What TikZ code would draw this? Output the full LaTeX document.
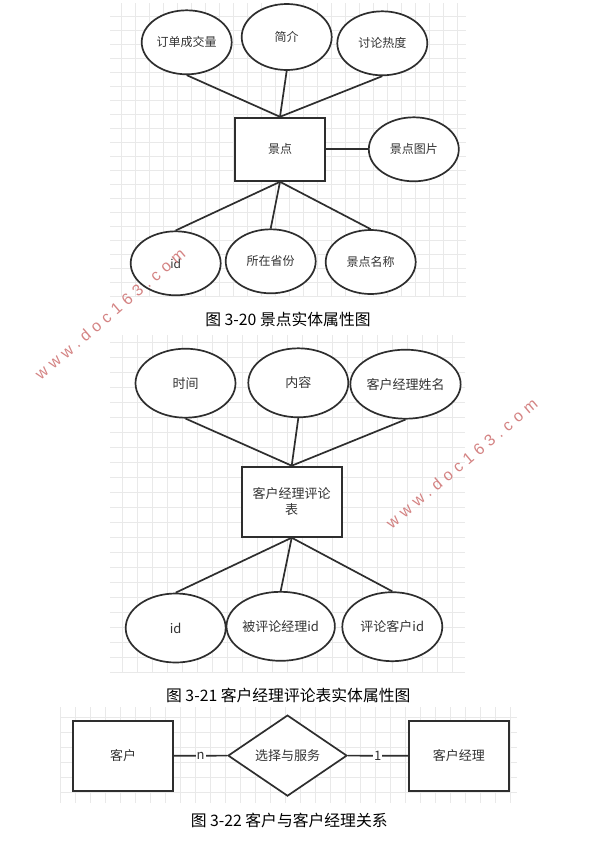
\documentclass[tikz,border=0pt]{standalone}
\usepackage{fontspec}
\setmainfont{Liberation Sans}
\newfontfamily\cjk{Noto Sans CJK SC}
\newfontfamily\wmfont[LetterSpace=32]{Liberation Sans}
\usetikzlibrary{shapes.geometric}
\definecolor{ink}{HTML}{2E2E2E}
\definecolor{txt}{HTML}{333333}
\definecolor{gridc}{HTML}{E9E9E9}
\definecolor{wm}{RGB}{205,110,110}
\tikzset{
  gridline/.style={draw=gridc, line width=0.9pt},
  attrA/.style={ellipse, draw=ink, line width=1.7pt, fill=white, inner sep=0pt,
    minimum width=90pt, minimum height=64pt, text=txt, font=\cjk\fontsize{12}{14}\selectfont},
  attrB/.style={ellipse, draw=ink, line width=1.7pt, fill=white, inner sep=0pt,
    minimum width=100pt, minimum height=69pt, text=txt, font=\cjk\fontsize{13}{16.5}\selectfont},
  entA/.style={rectangle, draw=ink, line width=2pt, fill=white, inner sep=0pt,
    minimum width=90pt, minimum height=63pt, text=txt, font=\cjk\fontsize{12}{14}\selectfont},
  entB/.style={rectangle, draw=ink, line width=2pt, fill=white, inner sep=0pt,
    minimum width=100pt, minimum height=70pt, text=txt, font=\cjk\fontsize{13}{16.5}\selectfont},
  relB/.style={diamond, aspect=1.5, draw=ink, line width=1.7pt, fill=white, inner sep=0pt,
    minimum width=119pt, minimum height=81pt, text=txt, font=\cjk\fontsize{13}{16}\selectfont},
  link/.style={draw=ink, line width=1.7pt},
  lbl/.style={fill=white, inner sep=1pt, text=txt, font=\cjk\fontsize{13}{16}\selectfont},
  captext/.style={inner sep=0pt, text=black, font=\cjk\fontsize{15.8}{18}\selectfont},
  wmark/.style={inner sep=0pt, text=wm, text opacity=0.85, font=\wmfont\fontsize{16}{18}\selectfont},
}
\begin{document}
\begin{tikzpicture}[x=1pt, y=-1pt]
\useasboundingbox (0,0) rectangle (596,847);
\fill[white] (0,0) rectangle (596,847);

% grids
\begin{scope}
\clip (110,3) rectangle (466,297);
\foreach \x in {121.7,135.7,...,466} \draw[gridline] (\x,3) -- (\x,297);
\foreach \y in {2.7,16.7,...,297.5} \draw[gridline] (110,\y) -- (466,\y);
\end{scope}
\begin{scope}
\clip (110,335) rectangle (465,673);
\foreach \x in {122.3,137.3,...,465} \draw[gridline] (\x,335) -- (\x,673);
\foreach \y in {342.7,357.7,...,673} \draw[gridline] (110,\y) -- (465,\y);
\end{scope}
\begin{scope}
\clip (60,707) rectangle (517,803);
\foreach \x in {60,75,...,517} \draw[gridline] (\x,707) -- (\x,803);
\foreach \y in {717.7,732.7,...,803} \draw[gridline] (60,\y) -- (517,\y);
\end{scope}

% diagram 3-20
\node[attrA] (a1) at (186.7,42.3) {订单成交量};
\node[attrA, minimum height=66pt] (a2) at (286.7,37) {简介};
\node[attrA] (a3) at (382.3,43.3) {讨论热度};
\node[entA] (e1) at (280,149.3) {景点};
\node[attrA] (a4) at (413.8,149.3) {景点图片};
\node[attrA] (a5) at (175.7,263.3) {id};
\node[attrA] (a6) at (270.7,261.3) {所在省份};
\node[attrA] (a7) at (370.7,262) {景点名称};
\draw[link] (a1.south) -- (e1.north);
\draw[link] (a2.south) -- (e1.north);
\draw[link] (a3.south) -- (e1.north);
\draw[link] (e1.east) -- (a4.west);
\draw[link] (e1.south) -- (a5.north);
\draw[link] (e1.south) -- (a6.north);
\draw[link] (e1.south) -- (a7.north);
\node[captext] (t1) at (288,319.5) {图 3-20 景点实体属性图};

% diagram 3-21
\node[attrB] (b1) at (185.5,383.2) {时间};
\node[attrB] (b2) at (298.3,382.8) {内容};
\node[attrB] (b3) at (405.5,384.2) {客户经理姓名};
\node[entB, align=center] (e2) at (291.7,501.7) {客户经理评论\\表};
\node[attrB] (b4) at (175.7,628) {id};
\node[attrB] (b5) at (280.7,626.3) {被评论经理id};
\node[attrB] (b6) at (392.3,626.7) {评论客户id};
\draw[link] (b1.south) -- (e2.north);
\draw[link] (b2.south) -- (e2.north);
\draw[link] (b3.south) -- (e2.north);
\draw[link] (e2.south) -- (b4.north);
\draw[link] (e2.south) -- (b5.north);
\draw[link] (e2.south) -- (b6.north);
\node[captext] (t2) at (288.3,695) {图 3-21 客户经理评论表实体属性图};

% diagram 3-22
\node[entB] (c1) at (123,755.8) {客户};
\node[relB] (r1) at (287.5,755.6) {选择与服务};
\node[entB] (c2) at (458.8,755.8) {客户经理};
\draw[link] (c1.east) -- node[lbl] {n} (r1.west);
\draw[link] (r1.east) -- node[lbl] {1} (c2.west);
\node[captext] (t3) at (289.2,820.5) {图 3-22 客户与客户经理关系};

% watermarks
\node[wmark, rotate=40.6] (w1) at (110,314) {www.doc163.com};
\node[wmark, rotate=40] (w2) at (461.7,463.3) {www.doc163.com};
\end{tikzpicture}
\end{document}
